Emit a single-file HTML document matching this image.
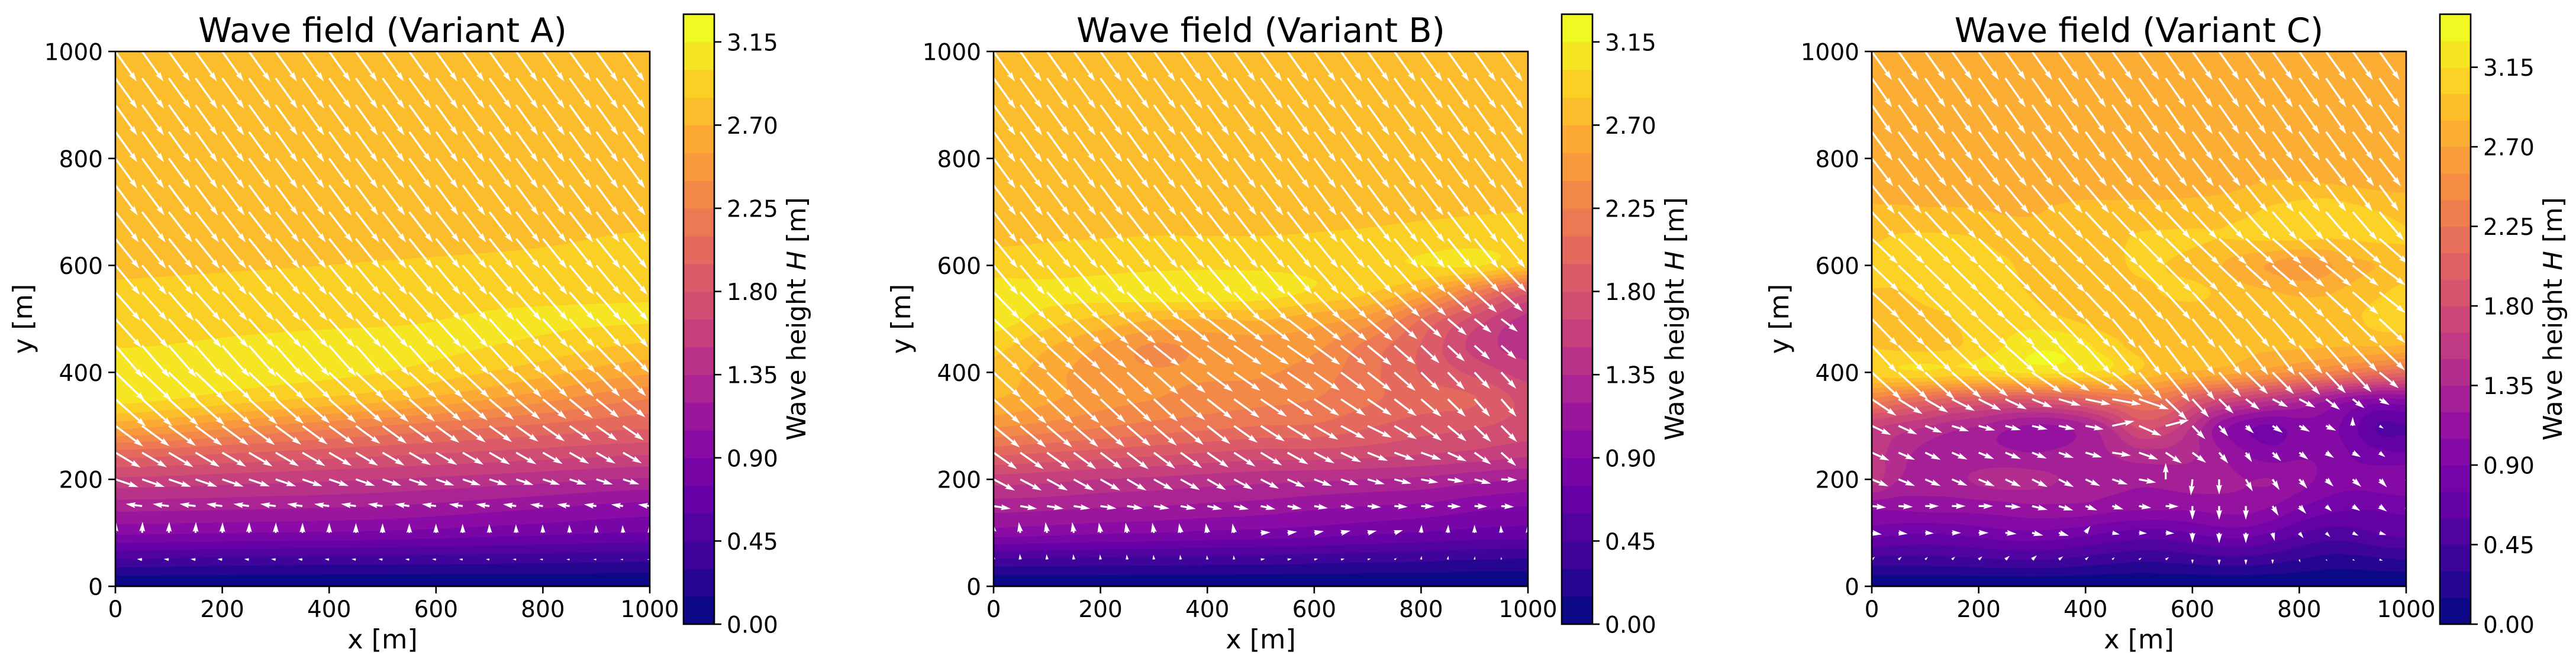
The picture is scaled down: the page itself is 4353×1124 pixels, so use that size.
<!DOCTYPE html>
<html lang="en">
<head>
<meta charset="utf-8">
<title>Wave field variants</title>
<style>
html,body{margin:0;padding:0;background:#fff;}
svg{display:block;}
text{font-family:"DejaVu Sans","Liberation Sans",sans-serif;fill:#000;}
.title{font-size:57.3px;text-anchor:middle;}
.label{font-size:44.5px;text-anchor:middle;}
.cbar-label{font-size:43.8px;text-anchor:middle;}
.tick{font-size:39px;}
</style>
</head>
<body>
<svg id="chart" xmlns="http://www.w3.org/2000/svg" width="4353" height="1124" viewBox="0 0 4353 1124">
<rect width="4353" height="1124" fill="#fff"/>
<defs>
<clipPath id="clipA"><rect x="195" y="87" width="903" height="904"/></clipPath>
<clipPath id="clipB"><rect x="1679" y="87" width="903" height="904"/></clipPath>
<clipPath id="clipC"><rect x="3163" y="87" width="903" height="904"/></clipPath>
</defs>
<g id="panelA">
<text class="title" x="646.5" y="71">Wave field (Variant A)</text>
<text class="label" x="646.5" y="1096">x [m]</text>
<text class="label" transform="translate(54,539) rotate(-90)">y [m]</text>
<text class="cbar-label" transform="translate(1361,539) rotate(-90)">Wave height <tspan font-style="italic">H</tspan> [m]</text>
</g>
<g id="panelB">
<text class="title" x="2130.5" y="71">Wave field (Variant B)</text>
<text class="label" x="2130.5" y="1096">x [m]</text>
<text class="label" transform="translate(1538,539) rotate(-90)">y [m]</text>
<text class="cbar-label" transform="translate(2845,539) rotate(-90)">Wave height <tspan font-style="italic">H</tspan> [m]</text>
</g>
<g id="panelC">
<text class="title" x="3614.5" y="71">Wave field (Variant C)</text>
<text class="label" x="3614.5" y="1096">x [m]</text>
<text class="label" transform="translate(3022,539) rotate(-90)">y [m]</text>
<text class="cbar-label" transform="translate(4329,539) rotate(-90)">Wave height <tspan font-style="italic">H</tspan> [m]</text>
</g>
</svg>
<script>
// Axis tick values
const xTicks = [0, 200, 400, 600, 800, 1000];
const yTicks = [0, 200, 400, 600, 800, 1000];
const cbarTicks = [0, 0.45, 0.90, 1.35, 1.80, 2.25, 2.70, 3.15];
// Contour levels
const levelsAB = [0,.15,.3,.45,.6,.75,.9,1.05,1.2,1.35,1.5,1.65,1.8,1.95,2.1,2.25,2.4,2.55,2.7,2.85,3,3.15,3.3];
const levelsC = [0,.15,.3,.45,.6,.75,.9,1.05,1.2,1.35,1.5,1.65,1.8,1.95,2.1,2.25,2.4,2.55,2.7,2.85,3,3.15,3.3,3.45];
// Plasma colour stops
const plasmaStops = ['#0d0887','#41049d','#6a00a8','#8f0da4','#b12a90','#cc4778','#e16462','#f2844b','#fca636','#fcce25','#f0f921'];
// Quiver sample columns (m); rows are y = 0, 50, ... 1000
const quiverX = [0,50,100,150,200,250,300,350,400,450,500,550,600,650,700,750,800,850,900,950,1000];

// Wave height rows, y = 0..1000 by 50; each row spans x = 0..1000 evenly
const heightA = [
[.02],
[.44,.40,.38,.36,.33],
[.93,.90,.87,.80,.74],
[1.27,1.24,1.2,1.1,1.0],
[1.62,1.56,1.5,1.42,1.33],
[2.05,1.95,1.85,1.76,1.68],
[2.62,2.42,2.25,2.1,1.98],
[3.06,2.9,2.75,2.5,2.25],
[3.11,3.07,3.0,2.8,2.57],
[2.99,3.03,3.06,2.98,2.82],
[2.93,2.95,2.97,3.03,3.02],
[2.87,2.89,2.9,2.94,2.97],
[2.83,2.84,2.86,2.89,2.92],
[2.79,2.79,2.8,2.82,2.87],
[2.77,2.77,2.78,2.78,2.8],
[2.77],[2.77],[2.77],[2.77],[2.77],[2.77]];
const heightB = [
[.02],
[.43,.42,.41,.40,.39,.38,.36,.34,.33,.30,.29],
[.98,.95,.92,.90,.87,.85,.82,.78,.74,.70,.68],
[1.27,1.25,1.22,1.2,1.17,1.14,1.09,1.05,1.02,.95,.9],
[1.58,1.55,1.5,1.47,1.43,1.4,1.38,1.35,1.32,1.25,1.2],
[2.0,1.95,1.9,1.85,1.8,1.75,1.75,1.72,1.67,1.62,1.55],
[2.42,2.35,2.27,2.2,2.15,2.1,2.08,1.97,1.87,1.82,1.74],
[2.7,2.58,2.46,2.4,2.34,2.3,2.25,2.13,2.02,1.96,1.75],
[2.8,2.62,2.46,2.41,2.42,2.42,2.33,2.15,1.94,1.76,1.58],
[2.9,2.72,2.55,2.38,2.45,2.47,2.44,2.2,1.94,1.6,1.42],
[3.08,2.93,2.82,2.72,2.7,2.72,2.62,2.5,2.1,1.75,1.45],
[3.07,3.05,3.07,3.11,3.12,3.08,2.98,2.87,2.65,2.25,1.85],
[2.93,2.92,2.94,2.96,2.97,2.97,2.96,2.98,3.0,3.02,2.85],
[2.82,2.84,2.85,2.86,2.86,2.86,2.87,2.89,2.92,2.93,2.9],
[2.77,2.77,2.77,2.78,2.78,2.78,2.79,2.8,2.82,2.84,2.85],
[2.76,2.76,2.76,2.76,2.76,2.76,2.76,2.77,2.78,2.78,2.78],
[2.76],[2.76],[2.76],[2.76],[2.76]];
const heightC = [
[.02],
[.4,.4,.4,.41,.43,.45,.46,.44,.4,.36,.33,.34,.37,.4,.4,.36,.3,.25,.25,.28,.3],
[.82,.78,.76,.78,.82,.86,.87,.85,.8,.74,.7,.7,.76,.82,.82,.74,.62,.54,.55,.62,.65],
[1.1,1.1,1.12,1.12,1.13,1.15,1.18,1.18,1.17,1.12,1.1,1.1,1.1,1.12,1.12,1.05,.92,.83,.78,.78,.8],
[1.58,1.35,1.28,1.3,1.38,1.42,1.4,1.35,1.3,1.27,1.24,1.25,1.28,1.25,1.2,1.2,1.12,1.0,.95,.98,1.03],
[1.58,1.42,1.3,1.25,1.24,1.22,1.2,1.22,1.27,1.36,1.45,1.45,1.38,1.22,1.05,.95,1.02,1.02,.88,.78,.75],
[1.68,1.6,1.52,1.42,1.35,1.25,1.18,1.2,1.32,1.55,1.85,1.78,1.5,1.15,.95,.88,.98,.98,.8,.58,.6],
[2.38,2.25,2.15,2.05,2.0,1.95,1.95,2.0,2.08,2.2,2.3,2.25,2.0,1.82,1.68,1.55,1.42,1.25,1.1,1.02,1.05],
[3.08,3.12,3.13,3.1,3.11,3.15,3.18,3.18,3.15,3.1,2.98,2.87,2.83,2.78,2.7,2.6,2.5,2.4,2.3,2.2,2.12],
[2.99,2.96,2.95,2.98,3.05,3.16,3.27,3.27,3.18,3.05,2.95,2.92,2.91,2.9,2.88,2.88,2.88,2.87,2.86,2.86,2.85],
[2.92,2.92,2.96,3.0,3.05,3.07,3.06,3.02,2.96,2.9,2.9,2.92,2.92,2.92,2.93,2.94,2.94,2.95,2.98,3.04,3.07],
[2.99,2.99,3.04,3.05,3.05,3.03,2.99,2.93,2.9,2.9,2.95,3.01,3.03,2.98,2.9,2.86,2.82,2.83,2.9,2.98,3.04],
[3.05,3.06,3.06,3.05,3.05,3.02,2.95,2.9,2.89,2.95,3.03,3.0,2.95,2.86,2.75,2.68,2.6,2.67,2.8,2.86,2.94],
[2.98,3.02,3.03,3.02,3.0,2.94,2.9,2.9,2.92,2.96,3.02,3.03,3.02,3.0,3.01,3.02,3.02,3.0,3.01,3.02,3.01],
[2.88,2.88,2.87,2.87,2.86,2.84,2.84,2.87,2.9,2.9,2.91,2.91,2.93,2.95,2.98,3.03,3.08,3.12,3.05,3.0,2.96],
[2.79,2.79,2.79,2.79,2.79,2.79,2.79,2.79,2.79,2.79,2.79,2.79,2.79,2.8,2.84,2.87,2.87,2.86,2.84,2.82,2.81],
[2.77,2.77,2.77,2.77,2.77,2.77,2.77,2.77,2.77,2.77,2.77,2.77,2.77,2.77,2.78,2.8,2.79,2.78,2.78,2.78,2.77],
[2.76],[2.76],[2.76],[2.76]];

// Wave direction vectors (m), rows y = 0..1000 by 50; each row spans x = 0..1000 evenly
const windUA = [[0],[-10,-8,-5],[1,0,-1],[-31,-27.5,-22],[43,35,30],[47,41,34.5],[52,45,38],[57,49,41],[55.6,53,42],[52,50,49],[49,48,47],[47],[46],[45],[44],[42],[41],[41],[41],[41],[40]];
const windVA = [[0],[1,1,.5],[21,18,14],[4,4,3],[-14.6,-12,-9],[-28,-24,-19.6],[-38.5,-33,-26],[-51,-43,-33],[-53.5,-49,-44],[-60,-56,-50],[-54,-53.5,-53],[-53.5],[-55],[-56],[-57],[-56.5],[-56],[-57],[-57],[-57],[-56]];
const windUB = [[0],
[-1,-1,-1,-1,-1,-1,-1,-1,-1,-1,8,8,7,7,6,5,1,1,1,0,0],
[-2,-3,-3,-3,-3,-3,-3,-3,-3,-3,18,18,18,18,17,16,1,1,0,-1,-1],
[32,31,30,29,28,27.5,25.6,25,25,24,24],
[40,40,39,38,37,36,36,36,35,35,34,33,33,33,32,32,32,30,31,30,30],
[44,44,43,42,41,40,40,40,40,40,40,39,38,38,38,38,38,35,31,28,28],
[49,47,45,43,43,45,45,45,39,31,28],
[50,49,47,45,47,49,47,45,38,29,28],
[51,50,48,46,48,51,48,45,34.5,29,27],
[50,50,49,48,50,53,49,45,34.5,29,27],
[52,52,53,54,55,55,51,47,39,32,30],
[49,49,50,50,51,51,50,49,47,42,38],
[46,46,47],[45],[44],[42],[41],[41],[41],[41],[40]];
const windVB = [[0],
[10.5,10.5,10,10,9.5,9.5,9,9,8,8,1.5,1.5,1.5,1.5,2,2.5,7,7,6,5,5],
[20,20,20,20,19,19,19,18,18,17.5,1,2,3,4,4,5,15,15,15,14,14],
[-5,-5,-4.5,-4.5,-6,-6,-4,-2,-1,-1,-2],
[-21,-21,-21,-21,-21,-21,-20,-20,-20,-19,-17.5,-15,-12.5,-11,-9,-8,-6,-4,-8,-1,-1],
[-31,-31,-31,-31,-31,-31,-30,-29,-28,-26,-24,-22,-20,-18,-15.5,-14,-13.4,-16,-22,-25,-25],
[-40.5,-40,-39,-37,-34,-29,-26,-22,-28,-30,-30],
[-46,-46,-44,-42,-37,-33,-31,-30.5,-33,-33,-33],
[-47,-47,-44,-41,-36,-33,-34,-35,-34,-31,-30],
[-47,-46,-42,-38,-36,-35.5,-36,-37,-33,-26,-24],
[-50,-49,-47,-45,-43,-42,-41,-41,-35,-26,-22],
[-50,-51,-52,-53,-54,-54,-51,-48,-44,-38,-34],
[-55,-54,-49],[-55],[-57],[-56.5],[-56],[-57],[-57],[-57],[-56]];
const windUC = [[0],
[6,6,5,6,7,8,9,8,6,4.5,5,6,0,0,0,0,2,3,4.5,6.5,6.5],
[19,17,16,17,18.5,21,21,19,9,14,15,16,0,0,0,4,8,8,11,13,13],
[27,27,25.6,25.6,27,29,29,27,22,21,23,24,0,0,0,11,13,11,14,14,14],
[31,31,29,29,30,29,29,28,27.5,29,32,0,-3,0,13,13,15,14,16,14,2],
[33,31,29,29,29,29,27.5,28,31,35,36,30,25.6,17,11.5,16,17,15,15,11,3],
[36,35,32,32,31,29,29,30,34,41.5,42,43.5,24,17,15,19,20,19,0,8,8],
[46,45,43,43,42,40,38,41,47,54,56,40,31,27,26,29,30,26,22,19,19],
[55,55,55,55,55,55,56,58,61,57,43,45,42,41,41.5,40,39,37,35,36,36],
[47,56,42,42,49],[49,55,42,45,49],[52,50,47,47,49],[51,50,50,47,49],[49,49,49,54,54],[46,46,47,46,46],[43,44,45,40,35],[40],[39],[38],[38],[38]];
const windVC = [[0],
[5.5,5.5,5,5.5,6,7,8,6,5.5,4.5,3.5,4.5,-8,-10,-10,-8.5,-5.5,-2.6,-2,-2,-2],
[-3,-2,-1,0,0,-2,-5,-5.5,13,-3,-1,-1,-18.5,-19.5,-19.5,-15,-10,-8,-5.5,-4,-4],
[-2.6,-1.5,0,0,0,-2,-7,-8,-8,-6,-3.3,-.7,-25.5,-25.5,-25.5,-18,-14.4,-10,-9,-10,-10],
[-13,-12.5,-12.5,-12,-13,-13.6,-14.4,-14.4,-12.5,-9.6,-6,30.6,-30,-28.4,-22.5,-20,-17,-13.3,-14,-14.8,-8],
[-15,-13.6,-13.6,-13,-12,-12,-11,-10,-9,-5.5,-13,-20,-19,-20,-17.7,-16,-13,-10,-8.5,-8.5,-4],
[-17,-16,-13,-10,-8.5,-8,-6.6,-6.6,-6.6,9,-18.5,11,-25,-19.5,-14,-13,-11,-9,16.6,-5,-5],
[-31,-28,-25,-22,-21,-19,-15.5,-12,-10,-10,-19,-39,-34,-27,-20,-15,-16,-20,-17,-11,-11],
[-50,-50,-50,-48,-45,-42,-38,-35,-34,-46,-50,-55,-52,-46,-40.6,-40.6,-42,-39,-37,-29.5,-29.5],
[-50,-50,-55,-55,-44],[-50.5,-50,-55,-52,-43],[-48.7,-50,-52,-50,-36],[-48.7,-50,-52,-41,-36],[-47,-49,-50,-47,-47],[-50.5,-50,-50,-52,-54],[-53.5,-53,-52,-50,-48],[-52],[-54],[-54.5],[-54.5],[-53.5]];

const SVGNS = 'http://www.w3.org/2000/svg';
const PLOT_TOP = 87, PLOT_W = 903, PLOT_H = 904, CBAR_TOP = 24, CBAR_BOTTOM = 1055, CBAR_W = 52, CELL = 4;

function plasma(t) {
  const u = Math.max(0, Math.min(1, t)) * (plasmaStops.length - 1);
  const i = Math.min(plasmaStops.length - 2, Math.floor(u));
  const f = u - i;
  const a = plasmaStops[i], b = plasmaStops[i + 1];
  const ch = function (s, p) { return parseInt(s.substr(p, 2), 16); };
  const m = function (p) { return Math.round(ch(a, p) + (ch(b, p) - ch(a, p)) * f); };
  return 'rgb(' + m(1) + ',' + m(3) + ',' + m(5) + ')';
}
function sampleCubic(arr, u) {
  const n = arr.length;
  if (n === 1) return arr[0];
  u = Math.max(0, Math.min(n - 1, u));
  const i = Math.min(n - 2, Math.floor(u));
  const t = u - i;
  const p0 = arr[Math.max(0, i - 1)], p1 = arr[i], p2 = arr[i + 1], p3 = arr[Math.min(n - 1, i + 2)];
  return 0.5 * (2 * p1 + (p2 - p0) * t + (2 * p0 - 5 * p1 + 4 * p2 - p3) * t * t + (3 * p1 - p0 - 3 * p2 + p3) * t * t * t);
}
function sampleLinear(arr, xVal) {
  const n = arr.length;
  if (n === 1) return arr[0];
  const u = Math.max(0, Math.min(n - 1, xVal / 1000 * (n - 1)));
  const i = Math.min(n - 2, Math.floor(u));
  return arr[i] + (arr[i + 1] - arr[i]) * (u - i);
}
function el(tag, attrs, parent) {
  const e = document.createElementNS(SVGNS, tag);
  for (const k in attrs) e.setAttribute(k, attrs[k]);
  parent.appendChild(e);
  return e;
}
function r1(v) { return Math.round(v * 10) / 10; }

function buildGrid(rows, left) {
  const nx = Math.ceil(PLOT_W / CELL) + 1, ny = Math.ceil(PLOT_H / CELL) + 1;
  const across = rows.map(function (row) {
    const out = new Float64Array(nx);
    for (let i = 0; i < nx; i++) {
      const xVal = i * CELL / PLOT_W * 1000;
      out[i] = sampleCubic(row, xVal / 1000 * (row.length - 1));
    }
    return out;
  });
  const grid = [];
  const col = new Array(rows.length);
  for (let j = 0; j < ny; j++) {
    const yVal = 1000 - j * CELL / PLOT_H * 1000;
    const line = new Float64Array(nx);
    for (let i = 0; i < nx; i++) {
      for (let r = 0; r < rows.length; r++) col[r] = across[r][i];
      line[i] = Math.max(0, sampleCubic(col, yVal / 50));
    }
    grid.push(line);
  }
  return grid;
}
function levelPath(grid, level, left) {
  const parts = [];
  const ny = grid.length, nx = grid[0].length;
  for (let j = 0; j < ny - 1; j++) {
    const y0 = PLOT_TOP + j * CELL, y1 = y0 + CELL;
    let runStart = -1;
    for (let i = 0; i < nx - 1; i++) {
      const a = grid[j][i], b = grid[j][i + 1], c = grid[j + 1][i + 1], d = grid[j + 1][i];
      const full = a >= level && b >= level && c >= level && d >= level;
      if (full) { if (runStart < 0) runStart = i; continue; }
      if (runStart >= 0) {
        parts.push('M' + (left + runStart * CELL) + ' ' + y0 + 'H' + (left + i * CELL) + 'V' + y1 + 'H' + (left + runStart * CELL) + 'Z');
        runStart = -1;
      }
      if (a < level && b < level && c < level && d < level) continue;
      const x0 = left + i * CELL, x1 = x0 + CELL;
      const cx = [x0, x1, x1, x0], cy = [y0, y0, y1, y1], cv = [a, b, c, d];
      let s = '';
      for (let k = 0; k < 4; k++) {
        const m = (k + 1) % 4;
        if (cv[k] >= level) s += (s ? 'L' : 'M') + cx[k] + ' ' + cy[k];
        if ((cv[k] >= level) !== (cv[m] >= level)) {
          const f = (level - cv[k]) / (cv[m] - cv[k]);
          s += (s ? 'L' : 'M') + r1(cx[k] + (cx[m] - cx[k]) * f) + ' ' + r1(cy[k] + (cy[m] - cy[k]) * f);
        }
      }
      parts.push(s + 'Z');
    }
    if (runStart >= 0) {
      parts.push('M' + (left + runStart * CELL) + ' ' + y0 + 'H' + (left + (nx - 1) * CELL) + 'V' + y1 + 'H' + (left + runStart * CELL) + 'Z');
    }
  }
  return parts.join('');
}
function arrowPath(x, y, dx, dy) {
  const w = 3.3, headLen = 5 * w, axisLen = 4.5 * w, hw = 1.5 * w, sw = 0.5 * w;
  const len = Math.hypot(dx, dy);
  const s = len < headLen ? len / headLen : 1;
  const L = len < headLen ? headLen : len;
  const pts = [[0, sw], [L - axisLen, sw], [L - headLen, hw], [L, 0], [L - headLen, -hw], [L - axisLen, -sw], [0, -sw]];
  const ux = dx / len, uy = dy / len;
  return 'M' + pts.map(function (p) {
    const px = p[0] * s, py = p[1] * s;
    return (Math.round((x + px * ux - py * uy) * 100) / 100) + ' ' + (Math.round((y + px * uy + py * ux) * 100) / 100);
  }).join('L') + 'Z';
}
function drawPanel(groupId, clipId, left, rows, levels, windU, windV) {
  const g = document.getElementById(groupId);
  const sx = function (v) { return left + v / 1000 * PLOT_W; };
  const sy = function (v) { return PLOT_TOP + PLOT_H - v / 1000 * PLOT_H; };
  const bands = levels.length - 1;
  const color = function (k) { return plasma(k / (bands - 1)); };

  const field = el('g', { 'clip-path': 'url(#' + clipId + ')' }, g);
  
  
  const base = el('rect', { x: left, y: PLOT_TOP, width: PLOT_W, height: PLOT_H, fill: color(0) }, field);
  
  
  const grid = buildGrid(rows, left);
  for (let k = 1; k < bands; k++) {
    const d = levelPath(grid, levels[k], left);
    if (!d) continue;
    const p = el('path', { d: d, fill: color(k) }, field);
    
    
  }
  const quiver = el('g', { 'clip-path': 'url(#' + clipId + ')', fill: '#fff' }, g);
  
  
  for (let r = 0; r < windU.length; r++) {
    const yVal = r * 50;
    quiverX.forEach(function (xVal) {
      const dx = sampleLinear(windU[r], xVal) / 1000 * PLOT_W;
      const dy = -sampleLinear(windV[r], xVal) / 1000 * PLOT_H;
      if (Math.hypot(dx, dy) < 0.5) return;
      const a = el('path', { d: arrowPath(sx(xVal), sy(yVal), dx, dy) }, quiver);
      
      
    });
  }
  const frame = el('rect', { x: left, y: PLOT_TOP, width: PLOT_W, height: PLOT_H, fill: 'none', stroke: '#000', 'stroke-width': 2.6 }, g);
  
  

  xTicks.forEach(function (v) {
    const t = el('line', { x1: sx(v), x2: sx(v), y1: PLOT_TOP + PLOT_H, y2: PLOT_TOP + PLOT_H + 12, stroke: '#000', 'stroke-width': 2.6 }, g);
    
    
    const l = el('text', { class: 'tick', x: sx(v), y: 1043, 'text-anchor': 'middle' }, g);
    l.textContent = String(v);
    
    
  });
  yTicks.forEach(function (v) {
    const t = el('line', { x1: left - 12, x2: left, y1: sy(v), y2: sy(v), stroke: '#000', 'stroke-width': 2.6 }, g);
    
    
    const l = el('text', { class: 'tick', x: left - 21, y: sy(v) + 14.5, 'text-anchor': 'end' }, g);
    l.textContent = String(v);
    
    
  });

  const cx = left + 960;
  const top = levels[levels.length - 1];
  const cy = function (v) { return CBAR_BOTTOM - v / top * (CBAR_BOTTOM - CBAR_TOP); };
  for (let k = 0; k < bands; k++) {
    const b = el('rect', { x: cx, y: cy(levels[k + 1]), width: CBAR_W, height: cy(levels[k]) - cy(levels[k + 1]) + 0.5, fill: color(k) }, g);
    
    
  }
  const cf = el('rect', { x: cx, y: CBAR_TOP, width: CBAR_W, height: CBAR_BOTTOM - CBAR_TOP, fill: 'none', stroke: '#000', 'stroke-width': 2.6 }, g);
  
  
  cbarTicks.forEach(function (v) {
    const t = el('line', { x1: cx + CBAR_W, x2: cx + CBAR_W + 12, y1: cy(v), y2: cy(v), stroke: '#000', 'stroke-width': 2.6 }, g);
    
    
    const l = el('text', { class: 'tick', x: cx + CBAR_W + 21, y: cy(v) + 14.5, 'text-anchor': 'start' }, g);
    l.textContent = v.toFixed(2);
    
    
  });
}
drawPanel('panelA', 'clipA', 195, heightA, levelsAB, windUA, windVA);
drawPanel('panelB', 'clipB', 1679, heightB, levelsAB, windUB, windVB);
drawPanel('panelC', 'clipC', 3163, heightC, levelsC, windUC, windVC);
</script>
</body>
</html>
